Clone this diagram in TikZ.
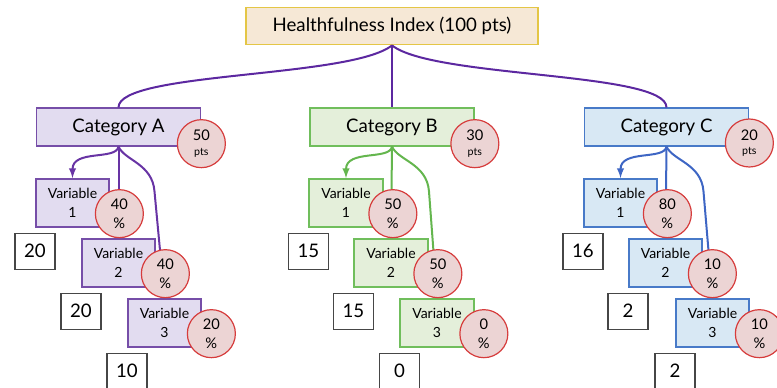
\documentclass[tikz,border=0pt]{standalone}
\usepackage{fontspec}
\setmainfont{Lato}
\usetikzlibrary{positioning}

\tikzset{every picture/.style={line width=0.75pt}}
\tikzset{
	head/.style={draw={rgb, 255:red, 228; green, 198; blue, 70 }, fill={rgb, 255:red, 246; green, 232; blue, 214 }, line width=1.1pt, minimum width=219pt, minimum height=28pt, font=\fontsize{14}{16}\selectfont},
	cat/.style={line width=1.3pt, minimum width=123pt, minimum height=28pt, font=\fontsize{14}{16}\selectfont},
	var/.style={line width=1.3pt, minimum width=55pt, minimum height=36pt, inner sep=1pt, align=center, font=\fontsize{10.5}{14}\selectfont},
	share/.style={circle, draw={rgb, 255:red, 214; green, 60; blue, 60 }, fill={rgb, 255:red, 236; green, 212; blue, 212 }, line width=0.9pt, minimum size=36pt, inner sep=0pt, align=center, font=\fontsize{11}{14}\selectfont},
	score/.style={draw={rgb, 255:red, 70; green, 70; blue, 70 }, fill=white, line width=0.9pt, minimum width=30pt, minimum height=27pt, font=\fontsize{14}{16}\selectfont},
	grpA/.style={draw={rgb, 255:red, 118; green, 78; blue, 168 }, fill={rgb, 255:red, 226; green, 220; blue, 240 }},
	grpB/.style={draw={rgb, 255:red, 112; green, 190; blue, 92 }, fill={rgb, 255:red, 228; green, 239; blue, 218 }},
	grpC/.style={draw={rgb, 255:red, 72; green, 122; blue, 200 }, fill={rgb, 255:red, 216; green, 232; blue, 244 }},
	linkTop/.style={draw={rgb, 255:red, 92; green, 40; blue, 160 }, line width=1.5pt},
	linkA/.style={draw={rgb, 255:red, 104; green, 52; blue, 164 }, line width=1.5pt},
	linkB/.style={draw={rgb, 255:red, 100; green, 182; blue, 78 }, line width=1.5pt},
	linkC/.style={draw={rgb, 255:red, 62; green, 102; blue, 196 }, line width=1.5pt},
}

\begin{document}
\begin{tikzpicture}[x=0.75pt,y=0.75pt,yscale=-1,xscale=1]
	\useasboundingbox (0,0) rectangle (777,388);

	% Top box
	\node[head] (index) at (392,26) {Healthfulness Index (100 pts)};

	% Categories
	\node[cat, grpA] (catA) at (118.5,127) {Category A};
	\node[cat, grpB] (catB) at (392,127) {Category B};
	\node[cat, grpC] (catC) at (666.5,127) {Category C};

	% Variables
	\node[var, grpA] (vA1) at (72.5,203) {Variable\\1};
	\node[var, grpA] (vA2) at (118.5,263) {Variable\\2};
	\node[var, grpA] (vA3) at (164.5,323) {Variable\\3};
	\node[var, grpB] (vB1) at (346,203) {Variable\\1};
	\node[var, grpB] (vB2) at (391,263) {Variable\\2};
	\node[var, grpB] (vB3) at (437,323) {Variable\\3};
	\node[var, grpC] (vC1) at (620.5,203) {Variable\\1};
	\node[var, grpC] (vC2) at (665.5,263) {Variable\\2};
	\node[var, grpC] (vC3) at (712.5,323) {Variable\\3};

	% Scores
	\node[score, below=3.5pt of vA1.south west] (sA1) {20};
	\node[score, below=3.5pt of vA2.south west] (sA2) {20};
	\node[score, below=3.5pt of vA3.south west] (sA3) {10};
	\node[score, below=3.5pt of vB1.south west] (sB1) {15};
	\node[score, below=3.5pt of vB2.south west] (sB2) {15};
	\node[score, below=3.5pt of vB3.south west] (sB3) {0};
	\node[score, below=3.5pt of vC1.south west] (sC1) {16};
	\node[score, below=3.5pt of vC2.south west] (sC2) {2};
	\node[score, below=3.5pt of vC3.south west] (sC3) {2};

	% Connectors from the index
	\draw[linkTop] (index.south) .. controls +(-42,33) and +(0,-36) .. (catA.north);
	\draw[linkTop] (index.south) -- (catB.north);
	\draw[linkTop] (index.south) .. controls +(42,33) and +(0,-36) .. (catC.north);

	% Connectors to the variables
	\draw[linkA, -latex] (catA.south) .. controls +(-2,14) and +(0,-29) .. (vA1.north);
	\draw[linkA] (catA.south) -- (vA2.north);
	\draw[linkA] (catA.south) .. controls +(6,14) and +(-2,-28) .. ++(36,45) -- (vA3.north);
	\draw[linkB, -latex] (catB.south) .. controls +(-2,14) and +(0,-29) .. (vB1.north);
	\draw[linkB] (catB.south) -- (vB2.north);
	\draw[linkB] (catB.south) .. controls +(6,14) and +(-2,-28) .. ++(37,45) -- (vB3.north);
	\draw[linkC, -latex] (catC.south) .. controls +(-2,14) and +(0,-29) .. (vC1.north);
	\draw[linkC] (catC.south) -- (vC2.north);
	\draw[linkC] (catC.south) .. controls +(6,14) and +(-2,-28) .. ++(37,45) -- (vC3.north);

	% Weights
	\node[share] (wA) at ([yshift=12.5pt]catA.east) {50\\[-3pt]{\fontsize{8}{9}\selectfont pts}};
	\node[share] (wB) at ([yshift=12.5pt]catB.east) {30\\[-3pt]{\fontsize{8}{9}\selectfont pts}};
	\node[share] (wC) at ([yshift=12pt]catC.east) {20\\[-3pt]{\fontsize{8}{9}\selectfont pts}};
	\node[share] (wA1) at ([xshift=7pt,yshift=8pt]vA1.east) {40\\\%};
	\node[share] (wA2) at ([xshift=7pt,yshift=8pt]vA2.east) {40\\\%};
	\node[share] (wA3) at ([xshift=7pt,yshift=8pt]vA3.east) {20\\\%};
	\node[share] (wB1) at ([xshift=7pt,yshift=8pt]vB1.east) {50\\\%};
	\node[share] (wB2) at ([xshift=7pt,yshift=8pt]vB2.east) {50\\\%};
	\node[share] (wB3) at ([xshift=7pt,yshift=8pt]vB3.east) {0\\\%};
	\node[share] (wC1) at ([xshift=7pt,yshift=8pt]vC1.east) {80\\\%};
	\node[share] (wC2) at ([xshift=7pt,yshift=8pt]vC2.east) {10\\\%};
	\node[share] (wC3) at ([xshift=7pt,yshift=8pt]vC3.east) {10\\\%};

\end{tikzpicture}
\end{document}
